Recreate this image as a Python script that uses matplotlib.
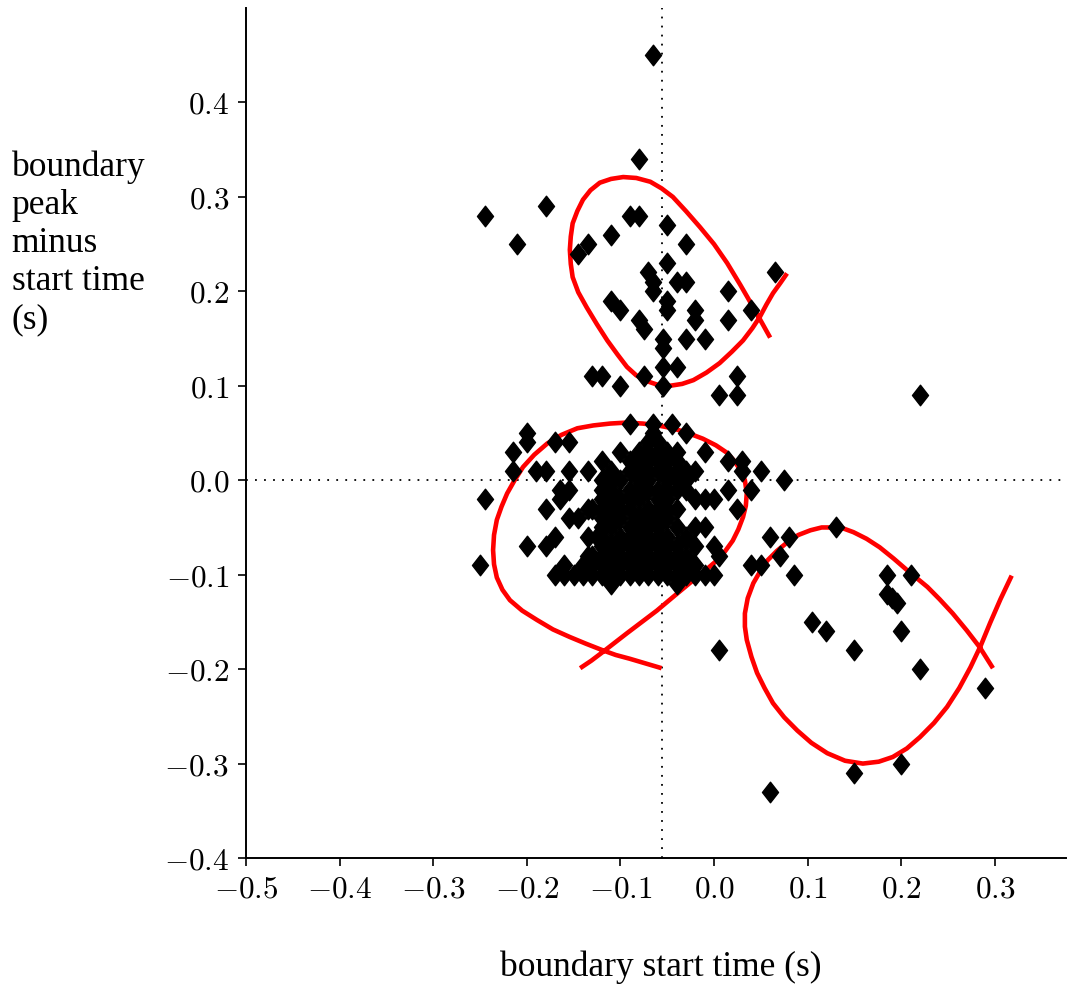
import matplotlib
matplotlib.use('Agg')
import matplotlib.pyplot as plt
from matplotlib.path import Path
from matplotlib.ticker import FuncFormatter

plt.rcParams['mathtext.fontset'] = 'cm'

# scattered points (start time, peak minus start time)
pts_upper = [(-0.065, 0.45), (-0.08, 0.34), (-0.18, 0.29), (-0.245, 0.28), (-0.21, 0.25),
             (-0.09, 0.28), (-0.08, 0.28), (-0.05, 0.27), (-0.11, 0.26), (-0.135, 0.25),
             (-0.145, 0.24), (-0.03, 0.25), (-0.05, 0.23), (-0.07, 0.22), (-0.065, 0.21),
             (-0.065, 0.20), (-0.04, 0.21), (-0.03, 0.21), (0.065, 0.22), (0.015, 0.20),
             (-0.11, 0.19), (-0.10, 0.18), (-0.05, 0.19), (-0.05, 0.18), (-0.02, 0.18),
             (-0.02, 0.17), (0.015, 0.17), (0.04, 0.18), (-0.08, 0.17), (-0.075, 0.16),
             (-0.055, 0.15), (-0.055, 0.14), (-0.03, 0.15), (-0.01, 0.15), (-0.055, 0.12),
             (-0.04, 0.12), (-0.075, 0.11), (-0.055, 0.10), (-0.13, 0.11), (-0.12, 0.11),
             (-0.10, 0.10), (0.025, 0.11), (0.025, 0.09), (0.005, 0.09), (0.22, 0.09)]

pts_edge = [(-0.20, 0.05), (-0.20, 0.04), (-0.215, 0.03), (-0.215, 0.01), (-0.17, 0.04),
            (-0.155, 0.04), (-0.19, 0.01), (-0.18, 0.01), (-0.155, 0.01), (-0.135, 0.01),
            (-0.245, -0.02), (-0.165, -0.01), (-0.155, -0.01), (-0.165, -0.02), (-0.18, -0.03),
            (-0.155, -0.04), (-0.145, -0.04), (-0.135, -0.03), (-0.20, -0.07), (-0.18, -0.07),
            (-0.17, -0.06), (-0.25, -0.09), (-0.16, -0.09), (-0.135, -0.06), (-0.125, -0.06),
            (-0.135, -0.08), (-0.09, 0.06), (-0.065, 0.06), (-0.045, 0.06), (-0.03, 0.05),
            (-0.065, 0.05), (-0.10, 0.03), (-0.12, 0.02), (-0.01, 0.03), (0.015, 0.02),
            (0.03, 0.02), (0.03, 0.01), (0.04, -0.01), (0.015, -0.01), (0.025, -0.03),
            (-0.04, -0.05), (-0.01, -0.05), (0.0, -0.07), (0.005, -0.08), (-0.02, -0.02),
            (-0.01, -0.02), (0.0, -0.02), (-0.03, 0.01), (-0.04, 0.03), (-0.02, 0.01),
            (0.05, 0.01), (0.075, 0.0), (-0.11, -0.11), (-0.04, -0.11)]

# dense core, one row per peak-minus-start value
core_rows = [
    (0.04, [-0.07, -0.06]),
    (0.03, [-0.08, -0.07, -0.06, -0.05]),
    (0.02, [-0.09, -0.08, -0.07, -0.06, -0.05, -0.04]),
    (0.01, [-0.11, -0.09, -0.08, -0.07, -0.06, -0.05, -0.04]),
    (0.00, [-0.12, -0.11, -0.10, -0.08, -0.07, -0.05, -0.04, -0.03]),
    (-0.01, [-0.12, -0.11, -0.09, -0.08, -0.07, -0.06, -0.05, -0.04, -0.03]),
    (-0.02, [-0.12, -0.11, -0.10, -0.09, -0.08, -0.06, -0.05]),
    (-0.03, [-0.13, -0.12, -0.11, -0.10, -0.09, -0.07, -0.06, -0.05, -0.04]),
    (-0.04, [-0.12, -0.11, -0.10, -0.08, -0.07, -0.06, -0.05]),
    (-0.05, [-0.12, -0.11, -0.09, -0.08, -0.07, -0.06, -0.02]),
    (-0.06, [-0.12, -0.10, -0.09, -0.08, -0.07, -0.06, -0.05, -0.03]),
    (-0.07, [-0.12, -0.11, -0.10, -0.09, -0.08, -0.07, -0.06, -0.05, -0.04, -0.02]),
    (-0.08, [-0.13, -0.12, -0.11, -0.10, -0.09, -0.08, -0.07, -0.06, -0.05, -0.04, -0.03]),
    (-0.09, [-0.14, -0.13, -0.12, -0.11, -0.10, -0.09, -0.08, -0.07, -0.06, -0.05, -0.04,
             -0.03, -0.02]),
    (-0.10, [-0.17, -0.16, -0.15, -0.14, -0.13, -0.12, -0.11, -0.10, -0.09, -0.08, -0.07,
             -0.06, -0.05, -0.04, -0.03, -0.02, -0.01, 0.0]),
]

pts_right = [(0.13, -0.05), (0.06, -0.06), (0.08, -0.06), (0.07, -0.08), (0.04, -0.09),
             (0.05, -0.09), (0.085, -0.10), (0.185, -0.10), (0.21, -0.10), (0.185, -0.12),
             (0.195, -0.13), (0.19, -0.125), (0.105, -0.15), (0.12, -0.16), (0.20, -0.16),
             (0.15, -0.18), (0.005, -0.18), (0.22, -0.20), (0.29, -0.22), (0.20, -0.30),
             (0.15, -0.31), (0.06, -0.33)]

# red loops
loop1 = [(0.060, 0.151), (0.051, 0.167), (0.042, 0.183), (0.028, 0.207), (0.014, 0.230),
         (0.000, 0.250), (-0.015, 0.268), (-0.030, 0.285), (-0.044, 0.300), (-0.056, 0.309),
         (-0.068, 0.316), (-0.083, 0.320), (-0.097, 0.321), (-0.110, 0.319), (-0.122, 0.315),
         (-0.132, 0.307), (-0.140, 0.297), (-0.146, 0.285), (-0.151, 0.272), (-0.153, 0.258),
         (-0.154, 0.244), (-0.153, 0.229), (-0.151, 0.215), (-0.145, 0.199), (-0.136, 0.183),
         (-0.125, 0.165), (-0.114, 0.148), (-0.103, 0.133), (-0.093, 0.120), (-0.083, 0.111),
         (-0.072, 0.105), (-0.060, 0.101), (-0.047, 0.100), (-0.034, 0.102), (-0.022, 0.106),
         (-0.008, 0.114), (0.006, 0.124), (0.019, 0.136), (0.031, 0.148), (0.041, 0.161),
         (0.049, 0.173), (0.056, 0.186), (0.063, 0.198), (0.071, 0.209), (0.078, 0.219)]

loop2 = [(-0.056, -0.199), (-0.073, -0.194), (-0.090, -0.189), (-0.105, -0.185),
         (-0.119, -0.180), (-0.137, -0.173), (-0.154, -0.166), (-0.172, -0.158),
         (-0.189, -0.148), (-0.205, -0.138), (-0.218, -0.127), (-0.226, -0.116),
         (-0.232, -0.103), (-0.235, -0.089), (-0.236, -0.074), (-0.235, -0.058),
         (-0.232, -0.042), (-0.227, -0.028), (-0.221, -0.014), (-0.213, 0.000),
         (-0.204, 0.014), (-0.192, 0.027), (-0.178, 0.039), (-0.163, 0.048),
         (-0.146, 0.055), (-0.129, 0.058), (-0.111, 0.060), (-0.094, 0.061),
         (-0.076, 0.060), (-0.060, 0.058), (-0.044, 0.055), (-0.028, 0.050),
         (-0.012, 0.044), (0.002, 0.037), (0.014, 0.029), (0.022, 0.020),
         (0.028, 0.011), (0.033, 0.000), (0.035, -0.014), (0.034, -0.027),
         (0.031, -0.039), (0.026, -0.052), (0.020, -0.064), (0.012, -0.075),
         (0.003, -0.085), (-0.011, -0.097), (-0.026, -0.109), (-0.043, -0.123),
         (-0.061, -0.138), (-0.077, -0.150), (-0.093, -0.162), (-0.106, -0.172),
         (-0.119, -0.182), (-0.131, -0.191), (-0.143, -0.199)]

loop3 = [(0.298, -0.199), (0.291, -0.188), (0.284, -0.177), (0.270, -0.159), (0.255, -0.141),
         (0.241, -0.126), (0.228, -0.113), (0.217, -0.104), (0.206, -0.095), (0.192, -0.083),
         (0.177, -0.071), (0.163, -0.062), (0.149, -0.055), (0.138, -0.051), (0.127, -0.050),
         (0.115, -0.050), (0.103, -0.053), (0.090, -0.058), (0.078, -0.066), (0.067, -0.075),
         (0.057, -0.085), (0.049, -0.097), (0.042, -0.109), (0.036, -0.125), (0.033, -0.141),
         (0.033, -0.155), (0.035, -0.169), (0.040, -0.187), (0.046, -0.204), (0.054, -0.220),
         (0.063, -0.236), (0.075, -0.251), (0.089, -0.265), (0.104, -0.278), (0.121, -0.289),
         (0.140, -0.297), (0.159, -0.300), (0.176, -0.298), (0.191, -0.293), (0.206, -0.284),
         (0.220, -0.272), (0.235, -0.257), (0.249, -0.240), (0.262, -0.220), (0.274, -0.198),
         (0.285, -0.175), (0.295, -0.151), (0.306, -0.126), (0.318, -0.101)]

x_mean = -0.056
x_ticks = [-0.5, -0.4, -0.3, -0.2, -0.1, 0.0, 0.1, 0.2, 0.3]
y_ticks = [-0.4, -0.3, -0.2, -0.1, 0.0, 0.1, 0.2, 0.3, 0.4]

xs = [p[0] for p in pts_upper + pts_edge + pts_right]
ys = [p[1] for p in pts_upper + pts_edge + pts_right]
for yv, row in core_rows:
    xs += row
    ys += [yv] * len(row)

diamond = Path([(0, 1), (0.78, 0), (0, -1), (-0.78, 0), (0, 1)],
               [Path.MOVETO, Path.LINETO, Path.LINETO, Path.LINETO, Path.CLOSEPOLY])

fig = plt.figure(figsize=(10.68, 9.85), dpi=100)
ax = fig.add_axes([0.2303, 0.1289, 0.7678, 0.8630])

ax.axhline(0, color='black', ls=(0, (1, 4)), lw=1.3, zorder=1)
ax.axvline(x_mean, color='black', ls=(0, (1, 4)), lw=1.3, zorder=1)

for loop in [loop1, loop2, loop3]:
    ax.plot([p[0] for p in loop], [p[1] for p in loop], color='#ff0000', lw=3.3, zorder=2,
            solid_capstyle='butt', solid_joinstyle='round')

ax.plot(xs, ys, ls='none', marker=diamond, ms=14.8, color='black', zorder=3)

ax.set_xlim(-0.5, 0.376)
ax.set_ylim(-0.4, 0.5)
ax.set_xticks(x_ticks)
ax.set_yticks(y_ticks)
fmt = FuncFormatter(lambda v, p: r'$%.1f$' % (0.0 if abs(v) < 1e-9 else v))
ax.xaxis.set_major_formatter(fmt)
ax.yaxis.set_major_formatter(fmt)
ax.tick_params(direction='out', length=6, width=1.2, labelsize=22.5, pad=6)

ax.spines['top'].set_visible(False)
ax.spines['right'].set_visible(False)
ax.spines['left'].set_linewidth(1.4)
ax.spines['bottom'].set_linewidth(1.4)

fig.text(0.619, 0.018, 'boundary start time (s)', family='Liberation Serif',
         fontsize=25.5, ha='center', va='center')
fig.text(0.011, 0.847, 'boundary\npeak\nminus\nstart time\n(s)', family='Liberation Serif',
         fontsize=25.5, ha='left', va='top', linespacing=1.2)

fig.savefig('out.png', dpi=100)
